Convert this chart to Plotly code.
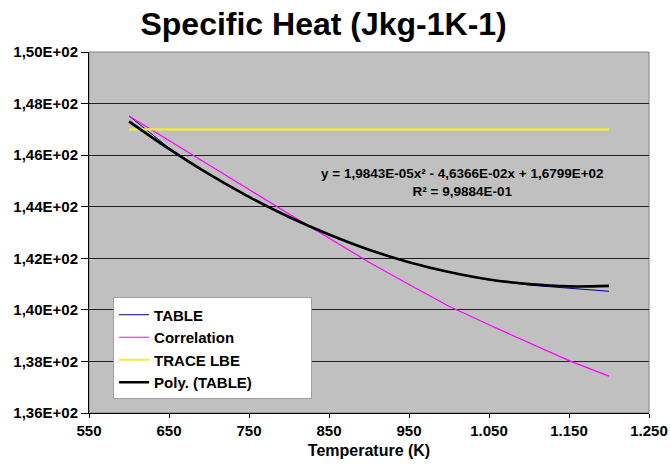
import plotly.graph_objects as go

# Data
temps = [600, 650, 700, 750, 800, 850, 900, 950, 1000, 1050, 1100, 1150, 1200]
table_cp = [147.52, 146.28, 145.25, 144.36, 143.58, 142.90, 142.32, 141.84,
            141.46, 141.16, 140.96, 140.83, 140.72]
corr_cp = [147.52, 146.58, 145.64, 144.67, 143.72, 142.77, 141.85, 140.98,
           140.14, 139.42, 138.72, 138.03, 137.43]
trace_x = [600, 1200]
trace_cp = [147.0, 147.0]
poly_cp = [147.31, 146.24, 145.26, 144.38, 143.60, 142.92, 142.33, 141.85,
           141.47, 141.18, 141.00, 140.91, 140.93]

y_ticks = [136, 138, 140, 142, 144, 146, 148, 150]
y_labels = ["1,36E+02", "1,38E+02", "1,40E+02", "1,42E+02", "1,44E+02",
            "1,46E+02", "1,48E+02", "1,50E+02"]
x_ticks = [550, 650, 750, 850, 950, 1050, 1150, 1250]
x_labels = ["550", "650", "750", "850", "950", "1.050", "1.150", "1.250"]

series_names = ["TABLE", "Correlation", "TRACE LBE", "Poly. (TABLE)"]

title_text = "Specific Heat (Jkg-1K-1)"
eq_text = "y = 1,9843E-05x² - 4,6366E-02x + 1,6799E+02<br>R² = 9,9884E-01"

FONT = "Liberation Sans"
PAD = "\u00a0" * 13

fig = go.Figure()
fig.add_trace(go.Scatter(x=temps, y=table_cp, mode="lines", name=series_names[0],
                         line=dict(color="#000080", width=1), legendgroup="a"))
fig.add_trace(go.Scatter(x=temps, y=corr_cp, mode="lines", name=series_names[1],
                         line=dict(color="#FF00FF", width=1.2), legendgroup="b"))
fig.add_trace(go.Scatter(x=trace_x, y=trace_cp, mode="lines", name=series_names[2],
                         line=dict(color="#EEEE38", width=2.2), legendgroup="c"))
fig.add_trace(go.Scatter(x=temps, y=poly_cp, mode="lines",
                         name=series_names[3] + PAD,
                         line=dict(color="#000000", width=2.6, shape="spline"),
                         legendgroup="d"))

fig.update_layout(
    width=670, height=464,
    margin=dict(l=89, r=21, t=52, b=51),
    paper_bgcolor="white",
    plot_bgcolor="#C0C0C0",
    font=dict(family=FONT, color="black", size=15),
    title=dict(text="<b>" + title_text + "</b>", x=0.483, xanchor="center",
               y=0.948, yanchor="middle",
               font=dict(family=FONT, size=32, color="black")),
    xaxis=dict(range=[550, 1250], tickvals=x_ticks, ticktext=x_labels,
               showgrid=False, zeroline=False, showline=True,
               linecolor="black", linewidth=1, mirror=False, automargin=False,
               ticks="outside", ticklen=4, tickcolor="black",
               tickfont=dict(family=FONT, size=15, color="black", weight="bold"),
               title=dict(text="<b>Temperature (K)</b>", standoff=6,
                          font=dict(family=FONT, size=16, color="black"))),
    yaxis=dict(range=[136, 150], tickvals=y_ticks, ticktext=y_labels,
               showgrid=True, gridcolor="#202020", gridwidth=1,
               zeroline=False, showline=True, automargin=False,
               linecolor="black", linewidth=1,
               ticks="outside", ticklen=7, tickcolor="black",
               tickfont=dict(family=FONT, size=15, color="black", weight="bold")),
    legend=dict(x=0.043, y=0.32, xanchor="left", yanchor="top",
                bgcolor="white", bordercolor="#A0A0A0", borderwidth=1,
                font=dict(family=FONT, size=15, color="black", weight="bold"),
                itemwidth=30, tracegroupgap=6, traceorder="normal"),
    showlegend=True,
)

# plot area border (top/right in gray)
fig.add_shape(type="rect", xref="paper", yref="paper", x0=0, y0=0, x1=1, y1=1,
              line=dict(color="#808080", width=1), layer="below")

fig.add_annotation(text="<b>" + eq_text + "</b>", xref="x", yref="y",
                   x=1017, y=144.95, showarrow=False, align="center",
                   font=dict(family=FONT, size=13.5, color="black"))

fig.write_html("out.html")
